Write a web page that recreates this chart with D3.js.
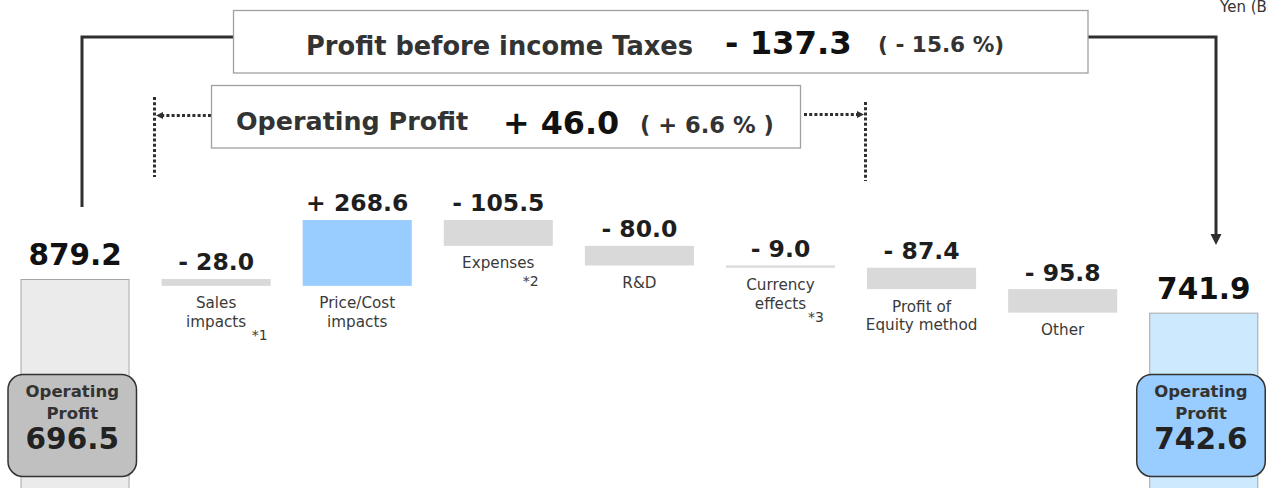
<!DOCTYPE html>
<html>
<head>
<meta charset="utf-8">
<script src="https://cdn.jsdelivr.net/npm/d3@7"></script>
<style>
  html, body { margin: 0; padding: 0; background: #fff; overflow: hidden; }
  svg { display: block; font-family: "DejaVu Sans", Verdana, sans-serif; }
</style>
</head>
<body>
<svg id="chart" width="1268" height="488"></svg>
<script>
// ---------------- data ----------------
const categories = ["Start", "Sales impacts", "Price/Cost impacts", "Expenses", "R&D",
                    "Currency effects", "Profit of Equity method", "Other", "End"];
const startValue = 879.2;
const endValue = 741.9;
const deltas = [-28.0, 268.6, -105.5, -80.0, -9.0, -87.4, -95.8];
const deltaLabels = [["Sales", "impacts"], ["Price/Cost", "impacts"], ["Expenses"], ["R&D"],
                     ["Currency", "effects"], ["Profit of", "Equity method"], ["Other"]];
const deltaNotes = ["*1", null, "*2", null, "*3", null, null];
const operatingProfit = [696.5, 742.6];
const pbtTitle = "Profit before income Taxes";
const pbtChange = "- 137.3";
const pbtPct = "( - 15.6 %)";
const opTitle = "Operating Profit";
const opChange = "+ 46.0";
const opPct = "( + 6.6 % )";
const unitLabel = "Yen (Billions)";

// ---------------- layout ----------------
const svg = d3.select("#chart");
const x = d3.scaleBand().domain(categories).range([20.5, 1258.3]).paddingInner(0.227).paddingOuter(0);
const y = d3.scaleLinear().domain([0, 1120]).range([494.6, 219.95]);
const bw = x.bandwidth();

const fmt = v => v.toFixed(1);
const fmtDelta = v => (v >= 0 ? "+ " : "- ") + Math.abs(v).toFixed(1);

// waterfall steps
let run = startValue;
const steps = deltas.map((d, i) => {
  const s = { cat: categories[i + 1], from: run, to: run + d, d, labels: deltaLabels[i], note: deltaNotes[i] };
  run += d;
  return s;
});

// unit label (runs off the right edge, as in the source slide)
svg.append("text").attr("x", 1220).attr("y", 11.5).attr("font-size", 15).attr("fill", "#333").text(unitLabel);

// ---------------- connectors ----------------
const dark = "#2f2f2f";
svg.append("path").attr("d", "M82,207 V37 H233").attr("fill", "none").attr("stroke", dark).attr("stroke-width", 3);
svg.append("path").attr("d", "M1088,37 H1216 V236").attr("fill", "none").attr("stroke", dark).attr("stroke-width", 3);
svg.append("path").attr("d", "M1216,245 L1210.5,234 L1221.5,234 Z").attr("fill", dark);

// dotted brackets
const dot = { stroke: dark, "stroke-width": 3, "stroke-dasharray": "3 2.2", fill: "none" };
function dotted(d) { const p = svg.append("path").attr("d", d); Object.entries(dot).forEach(([k, v]) => p.attr(k, v)); }
dotted("M154.5,97 V177");
dotted("M211,115.5 H162");
svg.append("path").attr("d", "M156,115.5 L163,112 L163,119 Z").attr("fill", dark);
dotted("M865.5,102 V181");
dotted("M804,114.5 H858");
svg.append("path").attr("d", "M864,114.5 L857,111 L857,118 Z").attr("fill", dark);

// ---------------- title boxes ----------------
svg.append("rect").attr("x", 233.5).attr("y", 10.5).attr("width", 854.5).attr("height", 62.5)
  .attr("fill", "#fff").attr("stroke", "#a0a0a0").attr("stroke-width", 1.3);
svg.append("text").attr("x", 306).attr("y", 55).attr("font-size", 25.7).attr("font-weight", "bold").attr("fill", "#333").text(pbtTitle);
svg.append("text").attr("x", 725).attr("y", 54).attr("font-size", 32.3).attr("font-weight", "bold").attr("fill", "#111").text(pbtChange);
svg.append("text").attr("x", 878).attr("y", 52).attr("font-size", 21.6).attr("font-weight", "bold").attr("fill", "#333").text(pbtPct);

svg.append("rect").attr("x", 211.5).attr("y", 85.5).attr("width", 589).attr("height", 62.5)
  .attr("fill", "#fff").attr("stroke", "#a0a0a0").attr("stroke-width", 1.3);
svg.append("text").attr("x", 236).attr("y", 130).attr("font-size", 25.4).attr("font-weight", "bold").attr("fill", "#333").text(opTitle);
svg.append("text").attr("x", 503).attr("y", 134).attr("font-size", 31.8).attr("font-weight", "bold").attr("fill", "#111").text(opChange);
svg.append("text").attr("x", 640).attr("y", 133).attr("font-size", 22.6).attr("font-weight", "bold").attr("fill", "#333").text(opPct);

// ---------------- total bars ----------------
const totals = [
  { cat: categories[0], v: startValue, fill: "#ebebeb", op: operatingProfit[0], opFill: "#c0c0c0" },
  { cat: categories[categories.length - 1], v: endValue, fill: "#cce9fd", op: operatingProfit[1], opFill: "#99ccff" }
];
totals.forEach(t => {
  const x0 = x(t.cat);
  svg.append("rect").attr("x", x0 + 0.5).attr("y", y(t.v) + 0.5).attr("width", bw - 1).attr("height", 494 - y(t.v))
    .attr("fill", t.fill).attr("stroke", "#a6a6a6").attr("stroke-width", 1);
  svg.append("text").attr("x", x0 + bw / 2).attr("y", y(t.v) - 14).attr("text-anchor", "middle")
    .attr("font-size", 29.5).attr("font-weight", "bold").attr("fill", "#111").text(fmt(t.v));
  const bx = x0 - 12.5, bwid = 128.5, by = 374.5, bh = 102;
  svg.append("rect").attr("x", bx).attr("y", by).attr("width", bwid).attr("height", bh).attr("rx", 15).attr("ry", 15)
    .attr("fill", t.opFill).attr("stroke", "#333").attr("stroke-width", 1.5);
  const cx = bx + bwid / 2;
  svg.append("text").attr("x", cx).attr("y", 397).attr("text-anchor", "middle").attr("font-size", 16.5)
    .attr("font-weight", "bold").attr("fill", "#333").text("Operating");
  svg.append("text").attr("x", cx).attr("y", 419).attr("text-anchor", "middle").attr("font-size", 16.5)
    .attr("font-weight", "bold").attr("fill", "#333").text("Profit");
  svg.append("text").attr("x", cx).attr("y", 449).attr("text-anchor", "middle").attr("font-size", 29.5)
    .attr("font-weight", "bold").attr("fill", "#222").text(fmt(t.op));
});

// ---------------- delta bars ----------------
const noteOffset = { "*1": [-19, 13], "*2": [-30, 18], "*3": [-27, 13] };
steps.forEach(s => {
  const x0 = x(s.cat);
  const top = y(Math.max(s.from, s.to)), bot = y(Math.min(s.from, s.to));
  svg.append("rect").attr("x", x0).attr("y", top).attr("width", bw).attr("height", Math.max(bot - top, 1.5))
    .attr("fill", s.d >= 0 ? "#99ccff" : "#d9d9d9");
  svg.append("text").attr("x", x0 + bw / 2).attr("y", top - 8.5).attr("text-anchor", "middle")
    .attr("font-size", 23.5).attr("font-weight", "bold").attr("fill", "#1e1e1e").text(fmtDelta(s.d));
  let lastY = bot;
  s.labels.forEach((l, i) => {
    lastY = bot + 22.5 + i * 18.5;
    svg.append("text").attr("x", x0 + bw / 2).attr("y", lastY).attr("text-anchor", "middle")
      .attr("font-size", 15.2).attr("fill", "#3a3a3a").text(l);
  });
  if (s.note) {
    const o = noteOffset[s.note] || [-24, 14];
    svg.append("text").attr("x", x0 + bw + o[0]).attr("y", lastY + o[1])
      .attr("font-size", 14).attr("fill", "#3a3a3a").text(s.note);
  }
});
</script>
</body>
</html>
